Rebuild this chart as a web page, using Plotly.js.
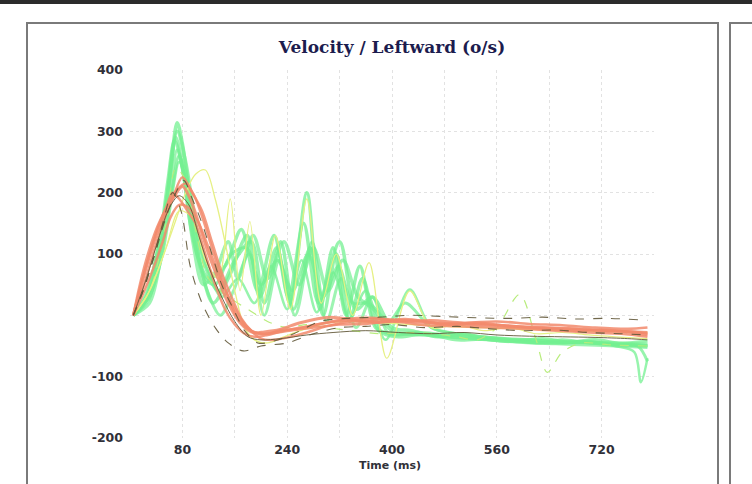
<!DOCTYPE html>
<html>
<head>
<meta charset="utf-8">
<script src="https://cdn.plot.ly/plotly-3.0.1.min.js"></script>
<style>
html,body{margin:0;padding:0;background:#fff;}
#chart{width:752px;height:484px;}
</style>
</head>
<body>
<div id="chart"></div>
<script>
// ---- data ----
const chartTitle = "Velocity / Leftward (o/s)";
const xAxisTitle = "Time (ms)";
const xTickVals = [0, 80, 160, 240, 320, 400, 480, 560, 640, 720, 800];
const xTickText = ["", "80", "", "240", "", "400", "", "560", "", "720", ""];
const yTickVals = [-200, -100, 0, 100, 200, 300, 400];
const yTickText = ["-200", "-100", "", "100", "200", "300", "400"];

// green traces
const g1T = [5, 25, 41, 56, 64, 72, 80, 95, 110, 127, 150, 179, 198, 224, 244, 270, 290, 310, 330, 351, 375, 400, 440, 480, 520, 560, 600, 640, 680, 720, 760, 790];
const g1V = [0, 30, 100, 190, 260, 314, 280, 160, 70, 20, 60, 130, 30, 110, 20, 200, 10, 110, 0, 80, -20, -30, -28, -32, -35, -38, -40, -42, -44, -45, -46, -48];
const g2T = [5, 25, 45, 60, 72, 85, 100, 115, 135, 160, 185, 205, 230, 250, 275, 295, 315, 335, 355, 380, 410, 450, 500, 550, 600, 650, 700, 750, 790];
const g2V = [0, 25, 105, 220, 300, 250, 150, 80, 40, 90, 120, 20, 120, 10, 110, 0, 100, -10, 60, -25, -35, -30, -40, -38, -42, -45, -44, -48, -50];
const g3T = [5, 25, 45, 58, 68, 80, 92, 105, 120, 145, 170, 195, 220, 242, 265, 288, 320, 345, 370, 400, 430, 470, 510, 550, 590, 630, 670, 710, 750, 790];
const g3V = [0, 35, 120, 220, 285, 240, 150, 90, 60, 80, 140, 40, 130, 30, 150, 20, 120, 10, 30, -20, -25, -35, -30, -40, -42, -38, -44, -40, -46, -42];
const g4T = [5, 30, 50, 65, 75, 88, 100, 115, 130, 155, 178, 200, 225, 248, 272, 295, 318, 340, 365, 395, 420, 460, 500, 540, 580, 620, 660, 700, 740, 775, 790];
const g4V = [0, 40, 120, 210, 260, 220, 130, 60, 50, 100, 110, 50, 90, 40, 100, 30, 80, 20, 20, -10, 20, -20, -30, -35, -40, -45, -40, -45, -48, -50, -75];
const g5T = [5, 30, 50, 65, 75, 90, 105, 120, 140, 165, 190, 215, 240, 262, 285, 310, 335, 360, 390, 427, 460, 500, 540, 580, 620, 660, 700, 740, 770, 780, 790];
const g5V = [0, 30, 100, 200, 250, 200, 120, 70, 30, 60, 20, 80, 10, 90, 5, 70, -5, 40, -40, 42, -20, -30, -35, -38, -40, -45, -42, -50, -60, -109, -70];
const g6T = [5, 28, 43, 58, 70, 82, 96, 112, 130, 150, 165, 188, 210, 235, 258, 280, 302, 325, 348, 372, 400, 450, 500, 550, 600, 650, 700, 750, 790];
const g6V = [0, 25, 90, 200, 290, 230, 120, 50, 70, 120, 60, 130, 60, 120, 50, 110, 40, 90, 30, 10, -25, -32, -36, -40, -44, -46, -48, -50, -52];
const g7T = [5, 30, 45, 60, 72, 85, 100, 118, 138, 158, 182, 205, 228, 252, 278, 300, 322, 345, 370, 395, 430, 480, 530, 580, 630, 680, 730, 790];
const g7V = [0, 20, 80, 180, 270, 210, 110, 40, 0, 40, 100, 0, 90, 0, 120, -10, 60, -20, 30, -30, -30, -34, -38, -42, -45, -43, -47, -49];

// lime / yellow traces
const l1T = [5, 30, 55, 70, 85, 100, 120, 150, 180, 210, 240, 270, 300, 340, 380, 420, 460, 500, 530, 560, 595, 620, 637, 660, 690, 730, 790];
const l1V = [0, 40, 150, 240, 220, 140, 60, 30, 10, -10, -20, -15, -20, -25, -30, -28, -30, -35, -40, -20, 34, -40, -93, -60, -45, -48, -50];
const y1T = [5, 25, 45, 65, 85, 100, 115, 130, 145, 160, 175, 190, 210, 235, 260, 290, 330, 380, 430, 480, 540, 600, 660, 720, 790];
const y1V = [0, 30, 80, 140, 200, 230, 237, 190, 120, 40, -20, -40, -45, -35, -25, -15, -10, -12, -15, -18, -20, -22, -25, -26, -28];
const y2T = [5, 30, 55, 75, 95, 115, 135, 153, 168, 183, 200, 222, 245, 270, 292, 315, 340, 365, 392, 427, 460, 500, 540, 580, 620, 660, 700, 740, 790];
const y2V = [0, 40, 110, 170, 160, 90, 60, 190, 40, 153, 0, 130, 10, 190, 20, 100, 0, 86, -70, 40, -20, -15, -25, -20, -30, -28, -32, -35, -38];

// orange traces
const o1T = [5, 15, 28, 40, 55, 68, 80, 92, 105, 120, 137, 150, 168, 188, 205, 229, 260, 305, 350, 382, 430, 480, 530, 580, 630, 680, 730, 790];
const o1V = [0, 40, 90, 130, 170, 195, 210, 190, 150, 100, 53, 20, -12, -28, -27, -23, -12, -3, -8, -6, -10, -14, -15, -18, -20, -22, -25, -28];
const o2T = [5, 15, 26, 40, 55, 65, 75, 88, 100, 115, 130, 145, 160, 175, 190, 210, 235, 260, 300, 340, 380, 420, 470, 520, 570, 620, 670, 720, 760, 790];
const o2V = [0, 50, 95, 140, 175, 200, 190, 170, 150, 100, 50, 10, -15, -30, -35, -32, -25, -20, -12, -8, -10, -6, -12, -14, -16, -20, -22, -25, -26, -30];
const o3T = [5, 20, 35, 50, 65, 80, 95, 110, 125, 140, 155, 170, 185, 200, 220, 245, 270, 300, 340, 380, 430, 480, 530, 580, 630, 680, 730, 790];
const o3V = [0, 45, 100, 150, 190, 225, 200, 170, 120, 70, 30, -5, -25, -38, -40, -35, -28, -18, -10, -12, -8, -15, -12, -18, -22, -25, -24, -32];
const o4T = [5, 20, 35, 50, 62, 75, 90, 105, 120, 138, 155, 172, 190, 210, 230, 255, 290, 330, 370, 410, 460, 510, 560, 610, 660, 710, 760, 790];
const o4V = [0, 35, 75, 120, 160, 180, 175, 150, 110, 60, 20, -10, -28, -30, -24, -22, -14, -6, -4, -10, -8, -12, -10, -14, -16, -20, -22, -20];
const o5T = [5, 18, 30, 45, 60, 72, 85, 98, 112, 128, 145, 162, 180, 200, 225, 250, 280, 320, 360, 400, 450, 500, 550, 600, 650, 700, 750, 790];
const o5V = [0, 55, 100, 150, 185, 205, 215, 195, 155, 100, 45, 0, -22, -30, -28, -24, -20, -15, -14, -10, -16, -18, -20, -22, -25, -28, -30, -35];

// dark traces
const d1T = [5, 20, 35, 50, 65, 78, 92, 110, 130, 150, 173, 200, 240, 280, 320, 360, 400, 450, 500, 550, 600, 650, 700, 750, 790];
const d1V = [0, 40, 90, 150, 200, 170, 80, 20, -20, -45, -58, -50, -45, -30, -20, -18, -15, -20, -18, -22, -25, -24, -28, -30, -32];
const d2T = [5, 20, 38, 55, 70, 82, 95, 110, 125, 140, 158, 175, 195, 220, 250, 290, 330, 380, 430, 480, 530, 580, 630, 680, 730, 790];
const d2V = [0, 40, 100, 160, 200, 220, 190, 150, 100, 50, 10, -25, -45, -42, -30, -10, -5, -3, 0, -2, -4, -5, -3, -6, -5, -8];
const d3T = [5, 25, 45, 60, 75, 90, 105, 120, 140, 160, 180, 200, 230, 270, 310, 360, 410, 460, 510, 560, 610, 660, 710, 760, 790];
const d3V = [0, 60, 130, 175, 195, 180, 130, 80, 30, -10, -35, -40, -38, -32, -28, -25, -28, -30, -28, -32, -34, -35, -36, -38, -40];

// ---- traces ----
function tr(x, y, color, width, dash, opacity) {
  return {x: x, y: y, type: 'scatter', mode: 'lines',
    line: {color: color, width: width, dash: dash || 'solid', shape: 'spline', smoothing: 0.9},
    opacity: opacity == null ? 1 : opacity, hoverinfo: 'skip'};
}
const GREEN = '#74f092', ORANGE = '#f28a6c', YELLOW = '#e6f084', LIME = '#b8ec7c', DARK = '#625838';
const data = [
  tr(g1T, g1V, GREEN, 3.5, 'solid', 0.75),
  tr(g2T, g2V, GREEN, 3.5, 'solid', 0.75),
  tr(g3T, g3V, GREEN, 3.5, 'solid', 0.75),
  tr(g4T, g4V, GREEN, 3, 'solid', 0.75),
  tr(g5T, g5V, GREEN, 2.5, 'solid', 0.75),
  tr(g6T, g6V, GREEN, 3.5, 'solid', 0.7),
  tr(g7T, g7V, GREEN, 3, 'solid', 0.7),
  tr(l1T, l1V, LIME, 1.2, 'dash', 1),
  tr(y1T, y1V, YELLOW, 1.3, 'solid', 1),
  tr(y2T, y2V, YELLOW, 1.2, 'solid', 1),
  tr(o1T, o1V, ORANGE, 3, 'solid', 0.85),
  tr(o2T, o2V, ORANGE, 2.5, 'solid', 0.85),
  tr(o3T, o3V, ORANGE, 2.5, 'solid', 0.85),
  tr(o4T, o4V, ORANGE, 2.5, 'solid', 0.85),
  tr(o5T, o5V, ORANGE, 2.5, 'solid', 0.85),
  tr(d1T, d1V, DARK, 1.1, 'dash', 0.9),
  tr(d2T, d2V, DARK, 1.1, 'dash', 0.9),
  tr(d3T, d3V, DARK, 1, 'solid', 0.9)
];

// ---- layout ----
const L = 130, R = 654, T = 70, B = 438, W = 752, H = 484;
const px = v => (v - L) / (R - L);
const py = v => (B - v) / (B - T);
const tickFont = {family: 'DejaVu Sans, Verdana, sans-serif', size: 12.5, color: '#303038', weight: 'bold'};
const layout = {
  width: W, height: H,
  margin: {l: L, r: W - R, t: T, b: H - B, pad: 0},
  paper_bgcolor: '#ffffff', plot_bgcolor: '#ffffff',
  showlegend: false, hovermode: false,
  title: {text: '<b>' + chartTitle + '</b>', x: 0.5, xref: 'paper', y: 1 - 47 / H, yref: 'container', yanchor: 'middle',
    font: {family: 'DejaVu Serif, serif', size: 17, color: '#1c1c4e'}},
  xaxis: {range: [0, 800], tickvals: xTickVals, ticktext: xTickText, showgrid: true,
    gridcolor: '#e2e2e2', griddash: 'dot', gridwidth: 1, zeroline: false, showline: false,
    ticks: '', tickfont: tickFont, ticklabelstandoff: 2, fixedrange: true},
  yaxis: {range: [-200, 400], tickvals: yTickVals, ticktext: yTickText, showgrid: true,
    gridcolor: '#e2e2e2', griddash: 'dot', gridwidth: 1, zeroline: false, showline: false,
    ticks: '', tickfont: tickFont, ticklabelstandoff: 6, fixedrange: true},
  annotations: [{text: '<b>' + xAxisTitle + '</b>', xref: 'paper', yref: 'paper', x: px(390), y: py(465),
    xanchor: 'center', yanchor: 'middle', showarrow: false,
    font: {family: 'DejaVu Sans, sans-serif', size: 11, color: '#303038'}}],
  shapes: [
    {type: 'rect', xref: 'paper', yref: 'paper', x0: px(-5), x1: px(760), y0: py(4), y1: py(-5), fillcolor: '#2b2b2b', line: {width: 0}, layer: 'above'},
    {type: 'path', xref: 'paper', yref: 'paper',
      path: 'M ' + px(27) + ' ' + py(490) + ' L ' + px(27) + ' ' + py(23) + ' L ' + px(718) + ' ' + py(23) + ' L ' + px(718) + ' ' + py(490),
      line: {color: '#7a7a7a', width: 2}, layer: 'above'},
    {type: 'path', xref: 'paper', yref: 'paper',
      path: 'M ' + px(730) + ' ' + py(490) + ' L ' + px(730) + ' ' + py(23) + ' L ' + px(760) + ' ' + py(23),
      line: {color: '#7a7a7a', width: 2}, layer: 'above'}
  ]
};
Plotly.newPlot('chart', data, layout, {staticPlot: true, displayModeBar: false});
</script>
</body>
</html>
